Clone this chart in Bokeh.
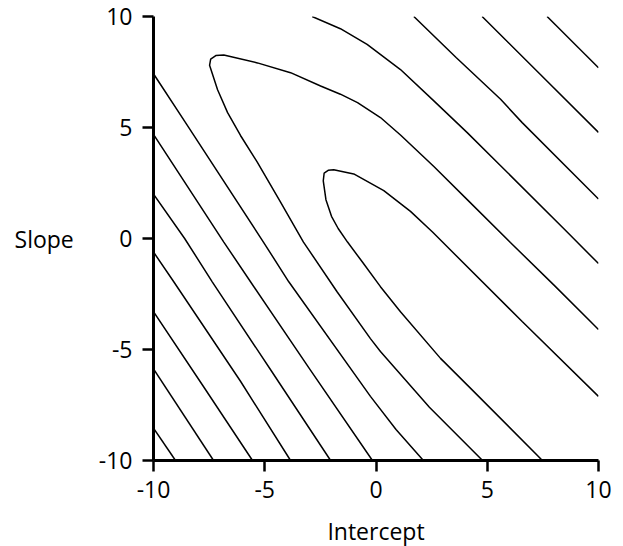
from bokeh.plotting import figure
from bokeh.models import Range1d, FixedTicker
from bokeh.embed import file_html
from bokeh.resources import INLINE

# Axis ticks
x_ticks = [-10, -5, 0, 5, 10]
y_ticks = [-10, -5, 0, 5, 10]
tick_labels = {-10: "-10", -5: "-5", 0: "0", 5: "5", 10: "10"}

# Contour lines (intercept, slope)
l1_x = [-10, -9.01]
l1_y = [-8.54, -10]
l2_x = [-10, -7.30]
l2_y = [-5.87, -10]
l3_x = [-10, -7.8, -5.55]
l3_y = [-3.30, -6.6, -10]
l4_x = [-10, -9.09, -6.09, -3.84]
l4_y = [-0.61, -1.95, -6.43, -10]
l5_x = [-10, -8.6, -7.36, -4.7, -2.04]
l5_y = [2.0, 0.0, -1.95, -5.97, -10]
l6_x = [-10, -6.84, -5.64, -3.0, -0.16]
l6_y = [4.69, -0.16, -1.95, -5.85, -10]
l7_x = [-10, -8.56, -5.06, -3.92, -0.25, 0.9, 2.13]
l7_y = [7.42, 5.22, -0.16, -1.95, -7.11, -8.6, -10]

outer_x = [4.79, 2.4, 0.2, -0.25, -1.75, -3.26, -4.29, -5.33, -6.09,
           -6.67, -7.12, -7.48, -7.43, -7.2, -6.84, -5.33, -3.84, -2.49,
           -1.6, -0.83, 0.20, 1.10, 2.60, 4.10, 6.04, 8.0, 10]
outer_y = [-10, -7.6, -5.09, -4.51, -2.4, -0.16, 1.64, 3.43, 4.64,
           5.67, 6.70, 7.8, 8.08, 8.24, 8.27, 7.91, 7.47, 6.87,
           6.5, 6.12, 5.45, 4.66, 3.24, 1.75, -0.18, -2.1, -4.10]

inner_x = [7.48, 4.5, 2.9, 1.1, 0.2, -0.62, -1.28, -1.7, -2.0, -2.25, -2.37,
           -2.33, -2.15, -1.90, -1.00, 0.35, 1.55, 2.54, 2.99, 6.57, 10]
inner_y = [-10, -7.0, -5.4, -3.3, -2.17, -1.05, -0.16, 0.45, 1.0, 1.75, 2.6,
           2.95, 3.07, 3.10, 2.91, 2.16, 1.22, 0.29, -0.16, -3.74, -7.11]

r4_x = [-2.87, -1.6, -0.40, 1.10, 2.60, 4.10, 5.60, 8.59, 10]
r4_y = [10, 9.45, 8.74, 7.61, 6.2, 4.77, 3.28, 0.29, -1.13]
r3_x = [1.70, 3.6, 5.60, 6.57, 10]
r3_y = [10, 8.15, 6.27, 5.22, 1.78]
r2_x = [4.77, 7.4, 10]
r2_y = [10, 7.38, 4.78]
r1_x = [7.69, 10]
r1_y = [10, 7.69]

all_xs = [l1_x, l2_x, l3_x, l4_x, l5_x, l6_x, l7_x, outer_x, inner_x, r4_x, r3_x, r2_x, r1_x]
all_ys = [l1_y, l2_y, l3_y, l4_y, l5_y, l6_y, l7_y, outer_y, inner_y, r4_y, r3_y, r2_y, r1_y]

FONT = "Open Sans"

p = figure(frame_width=445, frame_height=444,
           x_range=Range1d(-10, 10), y_range=Range1d(-10, 10),
           output_backend="svg", toolbar_location=None,
           min_border_left=153, min_border_top=16, min_border_right=20,
           min_border_bottom=84)

p.multi_line(xs=all_xs, ys=all_ys, line_color="black", line_width=1.5)

p.xgrid.visible = False
p.ygrid.visible = False
p.outline_line_color = None
p.background_fill_color = "white"
p.border_fill_color = "white"

for ax in (p.xaxis[0], p.yaxis[0]):
    ax.axis_line_width = 3
    ax.axis_line_color = "black"
    ax.major_tick_line_width = 2.5
    ax.major_tick_line_color = "black"
    ax.major_tick_in = 0
    ax.major_tick_out = 11
    ax.minor_tick_line_color = None
    ax.major_label_text_font = FONT
    ax.major_label_text_font_size = "23px"
    ax.major_label_text_color = "black"
    ax.major_label_overrides = tick_labels
    ax.axis_label_text_font = FONT
    ax.axis_label_text_font_size = "23px"
    ax.axis_label_text_font_style = "normal"
    ax.axis_label_text_color = "black"

p.xaxis[0].ticker = FixedTicker(ticks=x_ticks)
p.yaxis[0].ticker = FixedTicker(ticks=y_ticks)
p.xaxis[0].axis_label = "Intercept"
p.yaxis[0].axis_label = "Slope"
p.yaxis[0].axis_label_orientation = "horizontal"
p.xaxis[0].major_label_standoff = 9
p.yaxis[0].major_label_standoff = 10
p.xaxis[0].axis_label_standoff = 14
p.yaxis[0].axis_label_standoff = 22

open("out.html", "w").write(file_html(p, INLINE))
